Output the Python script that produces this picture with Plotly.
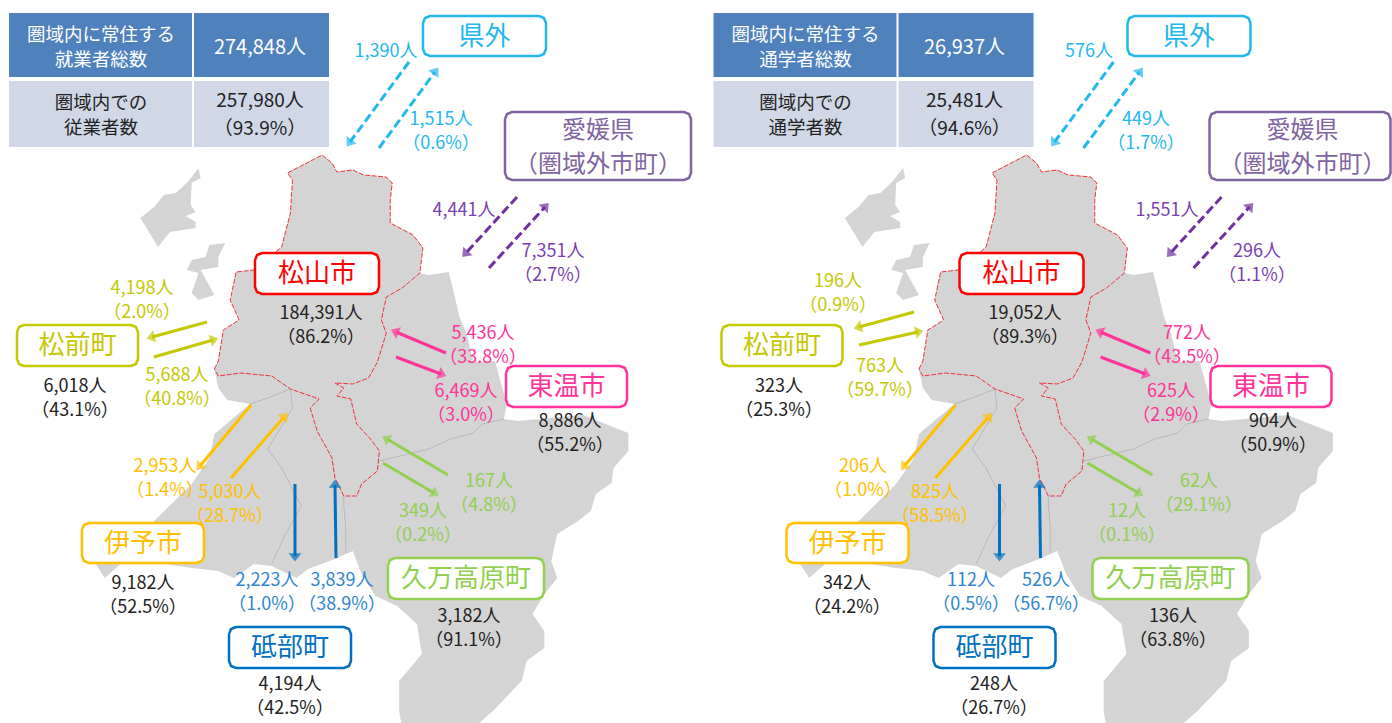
import plotly.graph_objects as go

# ---------- text and values ----------
TABLE_HEAD_WORK = ["圏域内に常住する", "就業者総数"]
TABLE_HEAD_SCHOOL = ["圏域内に常住する", "通学者総数"]
TABLE_TOTAL = ["274,848人", "26,937人"]
TABLE_ROW_WORK = ["圏域内での", "従業者数"]
TABLE_ROW_SCHOOL = ["圏域内での", "通学者数"]
TABLE_INNER = ["257,980人", "25,481人"]
TABLE_INNER_PCT = ["（93.9%）", "（94.6%）"]

AREA_NAMES = ["県外", "愛媛県", "（圏域外市町）", "松山市", "松前町", "東温市", "伊予市", "砥部町", "久万高原町"]
AREA_COLORS = ["#22B8EE", "#8064A2", "#8064A2", "#FF0000", "#C4C800", "#FF3399", "#FFC000", "#0070C0", "#92D050"]

LABEL_COLORS = ["#22B8EE", "#22B8EE", "#7B3FB0", "#7B3FB0", "#222222", "#C4C800", "#FF3399", "#FF3399", "#C4C800",
                "#222222", "#222222", "#FFC000", "#FFC000", "#92D050", "#92D050", "#222222", "#2F86CF", "#2F86CF",
                "#222222", "#222222"]
WORK_COUNTS = ["1,390人", "1,515人", "4,441人", "7,351人", "184,391人", "4,198人", "5,436人", "6,469人", "5,688人",
               "6,018人", "8,886人", "2,953人", "5,030人", "167人", "349人", "9,182人", "2,223人", "3,839人",
               "3,182人", "4,194人"]
WORK_PCTS = ["", "（0.6%）", "", "（2.7%）", "（86.2%）", "（2.0%）", "（33.8%）", "（3.0%）", "（40.8%）",
             "（43.1%）", "（55.2%）", "（1.4%）", "（28.7%）", "（4.8%）", "（0.2%）", "（52.5%）", "（1.0%）", "（38.9%）",
             "（91.1%）", "（42.5%）"]
SCHOOL_COUNTS = ["576人", "449人", "1,551人", "296人", "19,052人", "196人", "772人", "625人", "763人",
                 "323人", "904人", "206人", "825人", "62人", "12人", "342人", "112人", "526人", "136人", "248人"]
SCHOOL_PCTS = ["", "（1.7%）", "", "（1.1%）", "（89.3%）", "（0.9%）", "（43.5%）", "（2.9%）", "（59.7%）",
               "（25.3%）", "（50.9%）", "（1.0%）", "（58.5%）", "（29.1%）", "（0.1%）", "（24.2%）", "（0.5%）", "（56.7%）",
               "（63.8%）", "（26.7%）"]

# ---------- layout geometry (pixel axes) ----------
PANEL_OFFSET = 704.5
MAP_SX = 0.988
WORK_LABEL_XY = [(386, 50), (441, 118), (464, 209), (553, 250), (321, 312), (142, 287), (483, 332), (466, 390), (177, 374),
                 (75, 385), (570, 420), (165, 465), (230, 491), (489, 480), (423, 510), (143, 582), (267, 579), (342, 579),
                 (469, 615), (290, 683)]
SCHOOL_LABEL_XY = [(1089, 50), (1146, 118), (1167, 209), (1257, 250), (1025, 312), (838, 280), (1187, 332), (1171, 390), (880, 365),
                   (779, 385), (1273, 420), (863, 465), (935, 491), (1199, 480), (1127, 510), (847, 582), (971, 579), (1046, 579),
                   (1173, 615), (994, 683)]

BOXES = [(423, 16, 546, 56, 0), (505, 112, 691, 180, 1), (255, 253, 379, 294, 3), (17, 325, 138, 366, 4),
         (506, 366, 627, 407, 5), (82, 523, 204, 563, 6), (229, 627, 351, 668, 7), (388, 558, 544, 599, 8)]

ARROWS = [  # x0, y0, x1, y1, colour, dash
    (409, 62, 350, 142, "#22B8EE", "dash"), (379, 148, 435, 72, "#22B8EE", "dash"),
    (517, 197, 466, 253, "#7030A0", "dash"), (489, 268, 545, 207, "#7030A0", "dash"),
    (446, 353, 396, 332, "#FF3399", "solid"), (396, 357, 441, 374, "#FF3399", "solid"),
    (251, 405, 200, 466, "#FFC000", "solid"), (231, 478, 284, 417, "#FFC000", "solid"),
    (448, 475, 387, 439, "#92D050", "solid"), (383, 463, 434, 493, "#92D050", "solid"),
    (295, 484, 295, 556, "#0070C0", "solid"), (336, 558, 335, 485, "#0070C0", "solid"),
]
YELLOW_WORK = [(207, 322, 152, 337), (154, 357, 213, 340)]
YELLOW_SCHOOL = [(914, 312, 859, 327), (859, 345, 918, 332)]

ISLAND_A = [(201, 168), (203, 178), (194, 183), (193, 205), (198, 212), (188, 216), (198, 222), (198, 228), (172, 232),
            (160, 247), (142, 218), (156, 207), (166, 195), (178, 193), (190, 182)]
ISLAND_B = [(228, 243), (221, 257), (221, 267), (203, 270), (217, 295), (201, 300), (194, 293), (201, 273), (189, 270),
            (194, 260), (208, 257), (212, 245)]
MAINLAND = [(326, 155), (336, 163), (341, 172), (357, 170), (368, 175), (391, 177), (397, 183), (395, 200), (395, 223),
            (418, 235), (428, 248), (425, 273), (434, 275), (454, 272), (458, 287), (465, 317), (472, 333), (479, 362),
            (501, 361), (513, 404), (510, 419), (524, 421), (590, 415), (614, 424), (636, 433), (636, 451), (621, 468),
            (619, 483), (603, 494), (598, 511), (585, 521), (564, 534), (558, 561), (564, 578), (551, 594), (539, 614),
            (551, 631), (551, 648), (533, 661), (528, 681), (512, 698), (499, 711), (485, 723), (406, 723), (404, 711),
            (404, 681), (427, 654), (422, 624), (402, 606), (380, 596), (366, 574), (357, 551), (339, 559), (312, 569),
            (300, 578), (275, 566), (257, 564), (237, 578), (221, 571), (194, 568), (160, 563), (122, 564), (106, 578),
            (97, 564), (100, 545), (154, 523), (194, 484), (212, 458), (217, 434), (253, 404), (230, 400), (221, 388),
            (217, 369), (221, 361), (226, 330), (242, 320), (233, 300), (239, 272), (257, 270), (285, 247), (294, 213),
            (296, 180), (291, 173), (312, 162)]
RED_RING = [(217, 369), (221, 361), (226, 330), (242, 320), (233, 300), (239, 272), (257, 270), (285, 247), (294, 213),
            (296, 180), (291, 173), (312, 162), (326, 155), (336, 163), (341, 172), (357, 170), (368, 175), (391, 177),
            (397, 183), (395, 200), (395, 223), (418, 235), (428, 248), (425, 273), (407, 288), (391, 297), (386, 320),
            (391, 333), (382, 362), (373, 378), (357, 384), (339, 383), (348, 388), (341, 396), (355, 399), (361, 424),
            (375, 439), (384, 451), (382, 471), (366, 484), (361, 496), (348, 496), (339, 478), (336, 458), (321, 431),
            (314, 408), (323, 399), (294, 389), (275, 376), (244, 373), (221, 376), (217, 369)]
GREY_LINES = [
    [(294, 389), (296, 408), (271, 449), (285, 468), (305, 506), (289, 534), (275, 564)],
    [(294, 389), (271, 398), (253, 404)],
    [(348, 496), (348, 505), (350, 528), (350, 553)],
    [(384, 461), (434, 449), (456, 439), (479, 433), (488, 424), (510, 419)],
]


def scaled(pts, dx=0.0):
    return [p[0] * MAP_SX + dx for p in pts], [p[1] for p in pts]


def rounded(x0, y0, x1, y1, r=7):
    xs, ys = [], []
    k = 0.29 * r
    corners = [
        [(x0, y0 + r), (x0 + k, y0 + k), (x0 + r, y0)],
        [(x1 - r, y0), (x1 - k, y0 + k), (x1, y0 + r)],
        [(x1, y1 - r), (x1 - k, y1 - k), (x1 - r, y1)],
        [(x0 + r, y1), (x0 + k, y1 - k), (x0, y1 - r)],
    ]
    for c in corners:
        for px, py in c:
            xs.append(px)
            ys.append(py)
    xs.append(xs[0])
    ys.append(ys[0])
    return xs, ys


fig = go.Figure()


def area(xs, ys, fill, line="rgba(0,0,0,0)", width=0):
    fig.add_trace(go.Scatter(x=xs, y=ys, mode="lines", fill="toself", fillcolor=fill,
                             line=dict(color=line, width=width), hoverinfo="skip", showlegend=False))


def arrow(x0, y0, x1, y1, color, dash):
    fig.add_trace(go.Scatter(x=[x0, x1], y=[y0, y1], mode="lines",
                             line=dict(color=color, width=3, dash="9px,4px" if dash == "dash" else "solid"),
                             hoverinfo="skip", showlegend=False))
    fig.add_trace(go.Scatter(x=[x0, x1], y=[y0, y1], mode="markers",
                             marker=dict(symbol="triangle-up", size=[0, 11], color=color, angleref="previous", line=dict(width=0)),
                             hoverinfo="skip", showlegend=False))


text_x, text_y, text_s, text_c, text_z = [], [], [], [], []


def put(x, y, s, color, size):
    text_x.append(x)
    text_y.append(y + 2)
    text_s.append(s)
    text_c.append(color)
    text_z.append(size)


for dx in (0.0, PANEL_OFFSET):
    for poly in (ISLAND_A, ISLAND_B, MAINLAND):
        xs, ys = scaled(poly, dx)
        area(xs, ys, "#D4D4D4")
    for ln in GREY_LINES:
        xs, ys = scaled(ln, dx)
        fig.add_trace(go.Scatter(x=xs, y=ys, mode="lines", line=dict(color="#B8B8B8", width=1), hoverinfo="skip", showlegend=False))
    xs, ys = scaled(RED_RING, dx)
    fig.add_trace(go.Scatter(x=xs, y=ys, mode="lines", line=dict(color="#F0323C", width=1, dash="5px,1.5px"), hoverinfo="skip", showlegend=False))

for panel, dx in enumerate((0.0, PANEL_OFFSET)):
    # summary table
    area([9 + dx, 192 + dx, 192 + dx, 9 + dx, 9 + dx], [13, 13, 77, 77, 13], "#4F81BD")
    area([194 + dx, 329 + dx, 329 + dx, 194 + dx, 194 + dx], [13, 13, 77, 77, 13], "#4F81BD")
    area([9 + dx, 192 + dx, 192 + dx, 9 + dx, 9 + dx], [81, 81, 147, 147, 81], "#D0D8E8")
    area([194 + dx, 329 + dx, 329 + dx, 194 + dx, 194 + dx], [81, 81, 147, 147, 81], "#D0D8E8")
    head = TABLE_HEAD_WORK if panel == 0 else TABLE_HEAD_SCHOOL
    row = TABLE_ROW_WORK if panel == 0 else TABLE_ROW_SCHOOL
    put(101 + dx, 34, head[0], "#FFFFFF", 18.5)
    put(101 + dx, 59, head[1], "#FFFFFF", 18.5)
    put(260 + dx, 47, TABLE_TOTAL[panel], "#FFFFFF", 20)
    put(101 + dx, 102, row[0], "#222222", 18.5)
    put(101 + dx, 127, row[1], "#222222", 18.5)
    put(260 + dx, 100, TABLE_INNER[panel], "#222222", 19)
    put(260 + dx, 128, TABLE_INNER_PCT[panel], "#222222", 19)

    for a in ARROWS:
        arrow(a[0] + dx, a[1], a[2] + dx, a[3], a[4], a[5])
    for a in (YELLOW_WORK if panel == 0 else YELLOW_SCHOOL):
        arrow(a[0], a[1], a[2], a[3], "#C4C800", "solid")

    for b in BOXES:
        x0, y0, x1, y1, idx = b
        x1b = min(x1 + dx, 1390.5)
        xs, ys = rounded(x0 + dx, y0, x1b, y1)
        area(xs, ys, "#FFFFFF", AREA_COLORS[idx], 2.5)
        cx = (x0 + x1) / 2 + dx
        cy = (y0 + y1) / 2
        if idx == 1:
            put(cx, 130, AREA_NAMES[1], AREA_COLORS[1], 24)
            put(cx, 164, AREA_NAMES[2], AREA_COLORS[2], 24)
        else:
            put(cx, cy, AREA_NAMES[idx], AREA_COLORS[idx], 26)

    counts = WORK_COUNTS if panel == 0 else SCHOOL_COUNTS
    pcts = WORK_PCTS if panel == 0 else SCHOOL_PCTS
    xy = WORK_LABEL_XY if panel == 0 else SCHOOL_LABEL_XY
    for (lx, ly), c, p, col in zip(xy, counts, pcts, LABEL_COLORS):
        put(lx, ly, c, col, 18)
        if p:
            put(lx, ly + 24, p, col, 18)

fig.add_trace(go.Scatter(x=text_x, y=text_y, mode="text", text=text_s,
                         textposition="middle center",
                         textfont=dict(family="Noto Sans CJK JP", color=text_c, size=text_z),
                         hoverinfo="skip", showlegend=False))

fig.update_layout(width=1392, height=723, margin=dict(l=0, r=0, t=0, b=0),
                  paper_bgcolor="#FFFFFF", plot_bgcolor="#FFFFFF", showlegend=False,
                  xaxis=dict(range=[0, 1392], visible=False, fixedrange=True),
                  yaxis=dict(range=[723, 0], visible=False, fixedrange=True))
fig.write_html("out.html", config={"displayModeBar": False},
               post_script="document.body.style.margin='0';")
